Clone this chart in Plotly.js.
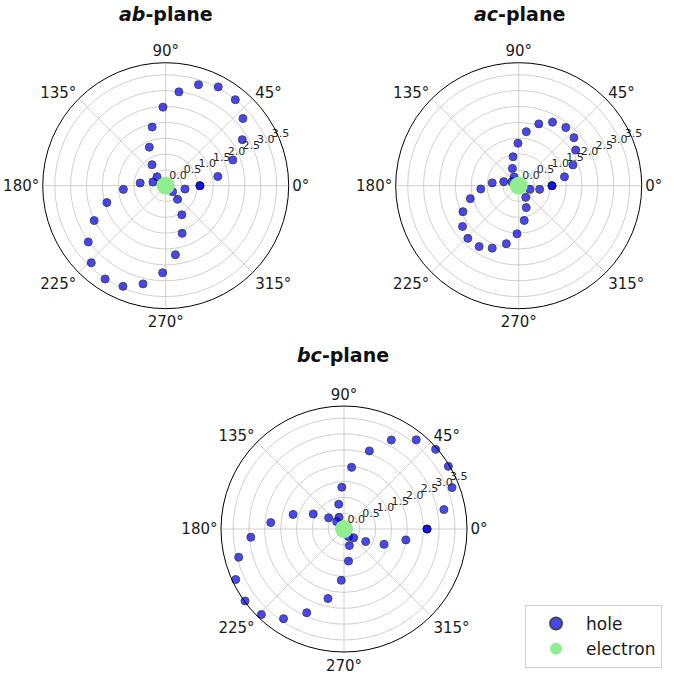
<!DOCTYPE html>
<html>
<head>
<meta charset="utf-8">
<script src="https://cdn.plot.ly/plotly-3.0.1.min.js"></script>
<style>
  html, body { margin: 0; padding: 0; background: #fff; }
  #plot { width: 674px; height: 674px; }
</style>
</head>
<body>
<div id="plot"></div>
<script>
// hole positions (theta in degrees, r in the plot's radial units)
var abTheta = [0, 360, 10, 21, 31, 41, 51, 62, 72, 82, 92, 103, 113, 123, 134, 164, 174, 185, 196, 206, 216, 226, 237, 247, 257, 268, 278, 289, 299, 311, 319, 350];
var abR     = [1.08, 1.08, 1.67, 2.27, 2.82, 3.23, 3.49, 3.53, 3.35, 2.99, 2.48, 1.90, 1.32, 0.79, 0.39, 0.42, 0.81, 1.34, 1.93, 2.51, 3.02, 3.38, 3.51, 3.45, 3.18, 2.75, 2.20, 1.59, 1.05, 0.57, 0.29, 0.62];

var acTheta = [0, 360, 11, 21, 32, 41, 51, 62, 72, 82, 91, 101, 110, 118, 150, 165, 174, 185, 195, 205, 216, 226, 237, 247, 258, 268, 279, 289, 301, 342, 350];
var acR     = [1.05, 1.05, 1.47, 1.83, 2.12, 2.31, 2.36, 2.27, 2.05, 1.72, 1.34, 0.93, 0.58, 0.31, 0.25, 0.49, 0.84, 1.20, 1.58, 1.94, 2.19, 2.31, 2.29, 2.14, 1.87, 1.52, 1.11, 0.73, 0.43, 0.37, 0.67];

var bcTheta = [0, 360, 11, 21, 31, 41, 51, 62, 72, 83, 93, 102, 113, 135, 144, 154, 164, 175, 185, 195, 205, 216, 226, 236, 246, 257, 267, 278, 288, 301, 318, 330, 339, 350];
var bcR     = [2.62, 2.62, 3.21, 3.65, 3.84, 3.83, 3.62, 3.18, 2.59, 1.96, 1.32, 0.80, 0.40, 0.33, 0.60, 1.08, 1.67, 2.32, 2.95, 3.44, 3.77, 3.86, 3.75, 3.41, 2.89, 2.25, 1.62, 1.02, 0.55, 0.28, 0.41, 0.79, 1.35, 1.98];

// electron sits at the origin of every plane
var elTheta = [0];
var elR = [0];

// radial tick labels, matplotlib style (at 22.5 deg, text to the upper right of the tick)
var rTicks = [0, 0.5, 1.0, 1.5, 2.0, 2.5, 3.0, 3.5];
var rTickText = ['0.0', '0.5', '1.0', '1.5', '2.0', '2.5', '3.0', '3.5'];
var rLabelAngle = 22.5;

var planes = [
  {key: 'polar',  theta: abTheta, r: abR},
  {key: 'polar2', theta: acTheta, r: acR},
  {key: 'polar3', theta: bcTheta, r: bcR}
];

var holeMarker = {color: 'rgb(0,0,255)', size: 8, opacity: 0.72, line: {color: 'rgb(0,0,0)', width: 1}};
var elecMarker = {color: '#90ee90', size: 18};

var data = [];
planes.forEach(function (p, i) {
  data.push({type: 'scatterpolar', mode: 'markers', r: p.r, theta: p.theta, subplot: p.key,
             name: 'hole', legendgroup: 'hole', showlegend: i === 0,
             marker: holeMarker, hoverinfo: 'skip'});
  data.push({type: 'scatterpolar', mode: 'markers', r: elR, theta: elTheta, subplot: p.key,
             name: 'electron', legendgroup: 'electron', showlegend: i === 0,
             marker: elecMarker, hoverinfo: 'skip'});
  // invisible markers only set the text offset
  data.push({type: 'scatterpolar', mode: 'markers+text', subplot: p.key, showlegend: false, hoverinfo: 'skip',
             r: rTicks, theta: rTicks.map(function () { return rLabelAngle; }),
             text: rTickText, textposition: 'top right', cliponaxis: false,
             marker: {size: 4, opacity: 0},
             textfont: {family: 'DejaVu Sans', size: 11, color: '#262626'}});
});

function polarAxes(dom) {
  return {
    domain: dom,
    bgcolor: '#fff',
    radialaxis: {
      range: [0, 3.88], dtick: 0.5, tick0: 0,
      showticklabels: false, showline: false, ticks: '',
      gridcolor: '#c4c4c4', gridwidth: 0.8
    },
    angularaxis: {
      rotation: 0, direction: 'counterclockwise', dtick: 45, ticksuffix: '°',
      showline: true, linecolor: '#000', linewidth: 1,
      ticks: '', gridcolor: '#c4c4c4', gridwidth: 0.8,
      tickfont: {family: 'DejaVu Sans', size: 15, color: '#1a1a1a'}
    }
  };
}

function title(txt, x, y) {
  return {text: txt, x: x, y: y, xref: 'paper', yref: 'paper', xanchor: 'center', yanchor: 'middle',
          showarrow: false, font: {size: 19, color: '#111'}};
}

var layout = {
  width: 674, height: 674,
  margin: {l: 0, r: 0, t: 0, b: 0},
  paper_bgcolor: '#fff',
  font: {family: 'DejaVu Sans'},
  polar:  polarAxes({x: [0.0634, 0.4283], y: [0.542, 0.907]}),
  polar2: polarAxes({x: [0.5871, 0.9521], y: [0.542, 0.907]}),
  polar3: polarAxes({x: [0.3279, 0.6929], y: [0.0326, 0.3976]}),
  annotations: [
    title('<b><i>ab</i>-plane</b>', 0.2458, 0.979),
    title('<b><i>ac</i>-plane</b>', 0.771, 0.979),
    title('<b><i>bc</i>-plane</b>', 0.5085, 0.4733)
  ],
  showlegend: true,
  legend: {
    x: 0.779, y: 0.1024, xanchor: 'left', yanchor: 'top',
    bordercolor: '#d0d0d0', borderwidth: 1, bgcolor: '#fff',
    font: {family: 'DejaVu Sans', size: 17, color: '#1a1a1a'},
    itemsizing: 'constant', itemwidth: 50, tracegroupgap: 0
  }
};

Plotly.newPlot('plot', data, layout, {displayModeBar: false, staticPlot: true});
</script>
</body>
</html>
